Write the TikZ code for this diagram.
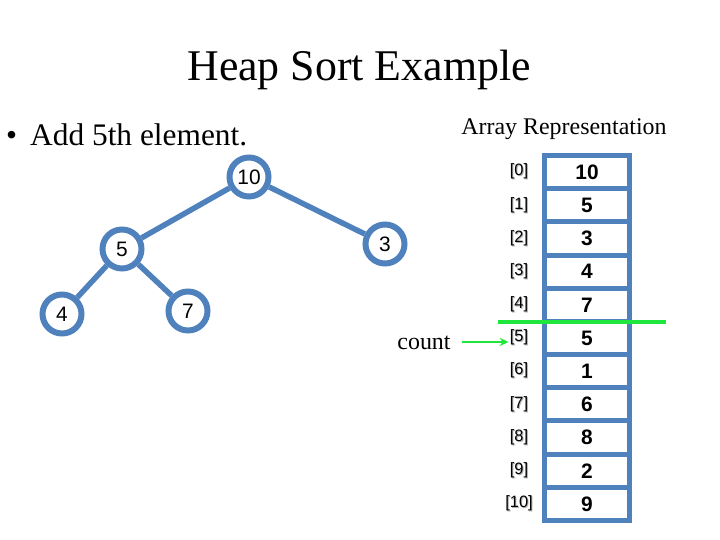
\documentclass[tikz,border=0pt]{standalone}
\usepackage{fontspec}
\setmainfont{Liberation Serif}
\newfontfamily\arialf{Liberation Sans}
\usetikzlibrary{arrows.meta}
\definecolor{hblue}{RGB}{79,129,189}
\definecolor{hgreen}{RGB}{30,230,60}
\tikzset{
  treenode/.style={circle,draw=hblue,line width=6bp,fill=white,minimum size=39bp,inner sep=0pt,font=\arialf\fontsize{21}{23}\selectfont},
  treeedge/.style={draw=hblue,line width=5.5bp},
  cell/.style={rectangle,draw=hblue,line width=5bp,fill=white,minimum width=85bp,minimum height=33.18bp,inner sep=0pt,outer sep=0pt,font=\arialf\bfseries\fontsize{21}{23}\selectfont},
  idx/.style={inner sep=1pt,font=\arialf\fontsize{16.5}{18}\selectfont}
}
\newcommand{\shadowtext}[1]{\makebox[0pt][l]{\hspace{1bp}\raisebox{-1bp}{\textcolor{gray!60}{#1}}}#1}
\begin{document}
\begin{tikzpicture}[x=1bp,y=-1bp]
\useasboundingbox (0,0) rectangle (720,540);
\node[font=\fontsize{44}{48}\selectfont] (title) at (359,70) {Heap Sort Example};
\node[font=\fontsize{31.5}{34}\selectfont,anchor=base west,inner sep=0pt] (bullet) at (6,146) {\textbullet\hspace{13bp}Add 5th element.};
\node[font=\fontsize{24}{28}\selectfont] (arrrep) at (564,129) {Array Representation};
% tree
\node[treenode] (n10) at (249,177) {10};
\node[treenode] (n5) at (122,249) {5};
\node[treenode] (n3) at (385,244) {3};
\node[treenode] (n4) at (62,314) {4};
\node[treenode] (n7) at (188,311) {7};
\path[treeedge] (n10) -- (n5);
\path[treeedge] (n10) -- (n3);
\path[treeedge] (n5) -- (n4);
\path[treeedge] (n5) -- (n7);
% array
\foreach \v [count=\i from 0] in {10,5,3,4,7,5,1,6,8,2,9} {
  \node[cell] (c\i) at (587,{155.5+33.18*(\i+0.5)}) {\v};
  \node[idx] (i\i) at (519,{155.5+33.18*(\i+0.5)}) {\shadowtext{[\i]}};
}
\coordinate (gl) at (498,322);
\coordinate (gr) at (666,322);
\draw[hgreen,line width=3.5bp] (gl) -- (gr);
\node[font=\fontsize{24}{28}\selectfont] (count) at (424,343) {count};
\coordinate (ca) at (462,342);
\draw[hgreen,line width=2.5bp,-{Stealth[length=9bp,width=8bp]}] (ca) -- (ca -| i5.west);
\end{tikzpicture}
\end{document}
